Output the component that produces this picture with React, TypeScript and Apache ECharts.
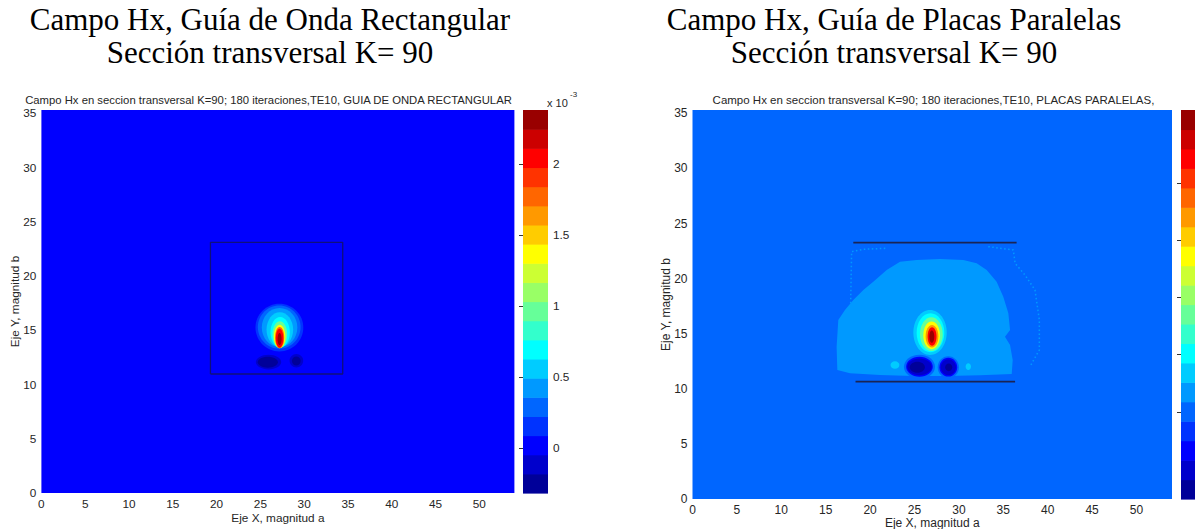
import React, { useEffect, useRef } from "react";
import * as echarts from "echarts";

// ---- colour map (MATLAB jet, 20 levels) ----
const JET = [
  "#000099", "#0000CC", "#0000FF", "#0033FF", "#0066FF", "#0099FF", "#00CCFF", "#00FFFF",
  "#33FFCC", "#66FF99", "#99FF66", "#CCFF33", "#FFFF00", "#FFCC00", "#FF9900", "#FF6600",
  "#FF3300", "#FF0000", "#CC0000", "#990000",
];

// ---- shared axes ----
const X_MIN = 0;
const X_MAX = 54;
const Y_MIN = 0;
const Y_MAX = 35.3;
const X_TICKS = [0, 5, 10, 15, 20, 25, 30, 35, 40, 45, 50];
const Y_TICKS = [0, 5, 10, 15, 20, 25, 30, 35];

// ---- left panel: rectangular waveguide (values x 1e-3) ----
const L_CBAR_RANGE: [number, number] = [-0.3145, 2.38];
const L_CBAR_TICKS = [0, 0.5, 1, 1.5, 2];
const L_BACKGROUND = 0;
const L_BOX: [number, number][] = [
  [19.3, 10.97], [34.4, 10.97], [34.4, 23.1], [19.3, 23.1], [19.3, 10.97],
];
// [cx, cy, rx, ry, value]
const L_BLOBS: number[][] = [
  [25.93, 12.07, 1.45, 0.68, -0.1],
  [25.85, 12.05, 1.15, 0.5, -0.25],
  [29.11, 12.19, 0.78, 0.62, -0.1],
  [29.1, 12.17, 0.5, 0.42, -0.25],
  [27.17, 15.25, 2.73, 2.2, 0.15],
  [27.15, 15.29, 2.44, 2.0, 0.3],
  [27.19, 15.25, 2.03, 1.8, 0.42],
  [27.22, 15.06, 1.52, 1.61, 0.55],
  [27.26, 14.82, 1.1, 1.41, 0.7],
  [27.22, 14.6, 0.84, 1.22, 0.95],
  [27.2, 14.43, 0.66, 1.08, 1.35],
  [27.2, 14.33, 0.52, 0.98, 1.75],
  [27.19, 14.27, 0.42, 0.86, 2.0],
  [27.19, 14.19, 0.23, 0.56, 2.3],
];

// ---- right panel: parallel plates ----
const R_CBAR_RANGE: [number, number] = [-1.52, 5.275];
const R_CBAR_TICKS = [0, 1, 2, 3, 4];
const R_BACKGROUND = 0;
const R_PLATE_TOP: [number, number][] = [[18.11, 23.26], [36.5, 23.26]];
const R_PLATE_BOTTOM: [number, number][] = [[18.36, 10.65], [36.33, 10.65]];
const R_REGION_VALUE = 0.3;
const R_REGION: [number, number][] = [
  [16.31, 11.71], [16.23, 13.82], [16.42, 16.24], [17.17, 17.15], [18.11, 18.06],
  [19.24, 18.97], [20.36, 19.72], [21.87, 20.78], [23.37, 21.54], [25.24, 21.69],
  [27.87, 21.78], [30.5, 21.69], [32.0, 21.39], [33.13, 20.78], [34.25, 19.72],
  [35.0, 18.36], [35.57, 16.85], [35.76, 15.34], [35.19, 14.73], [35.76, 13.97],
  [36.06, 12.61], [35.95, 11.34], [32.38, 11.22], [28.62, 11.16], [24.87, 11.16],
  [21.11, 11.25], [17.74, 11.4],
];
const R_DOTS_VALUE = 0.3;
const R_DOTS_LEFT: [number, number][] = [
  [17.81, 17.76], [17.92, 22.44], [19.24, 22.66], [21.87, 22.75],
];
const R_DOTS_RIGHT: [number, number][] = [
  [33.31, 22.9], [36.13, 22.6], [36.33, 21.39], [37.44, 20.33], [38.57, 18.97],
  [39.06, 16.24], [39.06, 13.52], [38.0, 12.01],
];
const R_BLOBS: number[][] = [
  [25.56, 12.0, 1.75, 1.1, 0.0],
  [28.81, 11.96, 1.2, 1.0, 0.0],
  [25.56, 12.0, 1.5, 0.9, -0.6],
  [28.81, 11.96, 1.0, 0.85, -0.6],
  [25.56, 12.0, 1.37, 0.76, -1.0],
  [28.81, 11.96, 0.86, 0.71, -1.0],
  [25.32, 11.95, 0.85, 0.5, -1.4],
  [28.85, 11.95, 0.4, 0.35, -1.4],
  [22.8, 12.16, 0.5, 0.35, 0.6],
  [31.06, 12.01, 0.3, 0.3, 0.6],
  [26.75, 15.11, 1.88, 2.04, 0.65],
  [26.8, 15.08, 1.56, 1.77, 1.0],
  [26.9, 14.96, 1.28, 1.53, 1.7],
  [26.93, 14.85, 0.94, 1.25, 2.7],
  [26.97, 14.77, 0.72, 1.02, 3.4],
  [26.98, 14.74, 0.5, 0.84, 4.4],
  [26.95, 14.73, 0.28, 0.55, 5.1],
];

// ---- texts ----
const HEAD_LEFT = ["Campo Hx, Guía de Onda Rectangular", "Sección transversal K= 90"];
const HEAD_RIGHT = ["Campo Hx, Guía de Placas Paralelas", "Sección transversal K= 90"];
const TITLE_LEFT = "Campo Hx en seccion transversal K=90; 180 iteraciones,TE10, GUIA DE ONDA RECTANGULAR";
const TITLE_RIGHT = "Campo Hx en seccion transversal K=90; 180 iteraciones,TE10, PLACAS PARALELAS,";
const X_NAME = "Eje X, magnitud a";
const Y_NAME = "Eje Y, magnitud b";

const SANS = '"Liberation Sans", Arial, Helvetica, sans-serif';
const SERIF = '"Liberation Serif", "Times New Roman", serif';
const INK = "#262626";

function bandColor(v: number, range: [number, number]) {
  const step = (range[1] - range[0]) / JET.length;
  let i = Math.floor((v - range[0]) / step);
  i = Math.max(0, Math.min(JET.length - 1, i));
  return JET[i];
}

function plotXAxis(gridIndex: number, fs: number, nameGap: number) {
  return {
    type: "value", gridIndex, min: X_MIN, max: X_MAX,
    name: X_NAME, nameLocation: "middle", nameGap, nameMoveOverlap: false,
    nameTextStyle: { fontFamily: SANS, fontSize: fs, color: INK },
    axisLine: { show: false }, axisTick: { show: false }, splitLine: { show: false },
    axisLabel: { customValues: X_TICKS, fontFamily: SANS, fontSize: fs, color: INK, margin: 5 },
  };
}
function plotYAxis(gridIndex: number, fs: number, nameGap: number) {
  return {
    type: "value", gridIndex, min: Y_MIN, max: Y_MAX,
    name: Y_NAME, nameLocation: "middle", nameGap, nameMoveOverlap: false,
    nameTextStyle: { fontFamily: SANS, fontSize: fs, color: INK },
    axisLine: { show: false }, axisTick: { show: false }, splitLine: { show: false },
    axisLabel: { customValues: Y_TICKS, fontFamily: SANS, fontSize: fs, color: INK, margin: 5 },
  };
}
function cbarYAxes(gridIndex: number, range: [number, number], ticks: number[], showLabels: boolean, fs: number) {
  const base = {
    type: "value", gridIndex, min: range[0], max: range[1],
    axisLine: { show: false }, splitLine: { show: false },
    axisTick: { show: true, inside: true, length: 4, customValues: ticks, lineStyle: { color: "#333", width: 1 } },
  };
  return [
    {
      ...base, position: "right",
      axisLabel: {
        show: showLabels, customValues: ticks, fontFamily: SANS, fontSize: fs, color: INK, margin: 5,
        formatter: (v: number) => String(v),
      },
    },
    { ...base, position: "left", axisLabel: { show: false } },
  ];
}
function cbarXAxis(gridIndex: number) {
  return { type: "value", gridIndex, min: 0, max: 1, show: false };
}

function blobSeries(data: number[][], range: [number, number], xi: number, yi: number) {
  return {
    type: "custom", xAxisIndex: xi, yAxisIndex: yi, data, encode: { x: 0, y: 1 },
    silent: true, clip: true, z: 3,
    renderItem: (_p: any, api: any) => {
      const c = api.coord([api.value(0), api.value(1)]);
      const s = api.size([api.value(2), api.value(3)]);
      return {
        type: "ellipse",
        shape: { cx: c[0], cy: c[1], rx: s[0], ry: s[1] },
        style: { fill: bandColor(api.value(4), range) },
      };
    },
  };
}
function polygonSeries(points: [number, number][], value: number, range: [number, number], xi: number, yi: number) {
  return {
    type: "custom", xAxisIndex: xi, yAxisIndex: yi, data: [points[0]], encode: { x: 0, y: 1 },
    silent: true, clip: true, z: 2,
    renderItem: (_p: any, api: any) => ({
      type: "polygon",
      shape: { points: points.map((p) => api.coord(p)) },
      style: { fill: bandColor(value, range) },
    }),
  };
}
function lineSeries(points: [number, number][], xi: number, yi: number, color: string, width: number, dash?: number[]) {
  return {
    type: "line", xAxisIndex: xi, yAxisIndex: yi, data: points, symbol: "none", silent: true, z: 4,
    lineStyle: { color, width, type: dash ? dash : "solid" },
  };
}
function cbarSeries(range: [number, number], xi: number, yi: number) {
  const step = (range[1] - range[0]) / JET.length;
  const centers = JET.map((_, i) => [0.5, range[0] + (i + 0.5) * step]);
  return {
    type: "custom", xAxisIndex: xi, yAxisIndex: yi, data: centers, encode: { x: 0, y: 1 }, silent: true,
    renderItem: (_p: any, api: any) => {
      const v = api.value(1);
      const a = api.coord([0, v + step / 2]);
      const b = api.coord([1, v - step / 2]);
      return {
        type: "rect",
        shape: { x: a[0], y: a[1], width: b[0] - a[0], height: b[1] - a[1] + 0.6 },
        style: { fill: bandColor(v, range) },
      };
    },
  };
}

function text(x: number, y: number, t: string, font: string, align = "center", color = "#000") {
  return {
    type: "text", x, y, silent: true,
    style: { text: t, font, fill: color, align, verticalAlign: "middle" },
  };
}

export default function App() {
  const ref = useRef<HTMLDivElement>(null);
  useEffect(() => {
    if (!ref.current) return;
    const chart = echarts.init(ref.current, undefined, { renderer: "svg" });
    const option: any = {
      animation: false,
      backgroundColor: "#ffffff",
      grid: [
        { left: 41.4, top: 110, width: 473, height: 383, show: true, borderWidth: 0, backgroundColor: bandColor(L_BACKGROUND, L_CBAR_RANGE), outerBoundsMode: "none" },
        { left: 523, top: 110, width: 25, height: 383, outerBoundsMode: "none" },
        { left: 692.5, top: 110, width: 479.5, height: 389, show: true, borderWidth: 0, backgroundColor: bandColor(R_BACKGROUND, R_CBAR_RANGE), outerBoundsMode: "none" },
        { left: 1181, top: 110, width: 25, height: 389, outerBoundsMode: "none" },
      ],
      xAxis: [
        plotXAxis(0, 11.8, 19),
        cbarXAxis(1),
        plotXAxis(2, 12, 18),
        cbarXAxis(3),
      ],
      yAxis: [
        plotYAxis(0, 11.8, 20),
        ...cbarYAxes(1, L_CBAR_RANGE, L_CBAR_TICKS, true, 11.8),
        plotYAxis(2, 12, 21),
        ...cbarYAxes(3, R_CBAR_RANGE, R_CBAR_TICKS, false, 12),
      ],
      series: [
        // left
        blobSeries(L_BLOBS, L_CBAR_RANGE, 0, 0),
        lineSeries(L_BOX, 0, 0, "#10107a", 1.3),
        cbarSeries(L_CBAR_RANGE, 1, 1),
        // right
        polygonSeries(R_REGION, R_REGION_VALUE, R_CBAR_RANGE, 2, 3),
        lineSeries(R_DOTS_LEFT, 2, 3, bandColor(R_DOTS_VALUE, R_CBAR_RANGE), 1.5, [1.5, 2.5]),
        lineSeries(R_DOTS_RIGHT, 2, 3, bandColor(R_DOTS_VALUE, R_CBAR_RANGE), 1.5, [1.5, 2.5]),
        blobSeries(R_BLOBS, R_CBAR_RANGE, 2, 3),
        lineSeries(R_PLATE_TOP, 2, 3, "#1a2456", 1.8),
        lineSeries(R_PLATE_BOTTOM, 2, 3, "#1a2456", 1.8),
        cbarSeries(R_CBAR_RANGE, 3, 4),
      ],
      graphic: [
        text(270, 19, HEAD_LEFT[0], `31px ${SERIF}`),
        text(270, 52, HEAD_LEFT[1], `31px ${SERIF}`),
        text(894, 19, HEAD_RIGHT[0], `31px ${SERIF}`),
        text(894, 52, HEAD_RIGHT[1], `31px ${SERIF}`),
        text(268.5, 100, TITLE_LEFT, `11.3px ${SANS}`, "center", INK),
        text(933.5, 100, TITLE_RIGHT, `11.5px ${SANS}`, "center", INK),
        text(547, 103, "x 10", `11px ${SANS}`, "left", INK),
        text(570, 94, "-3", `8px ${SANS}`, "left", INK),
      ],
    };
    chart.setOption(option);
    return () => chart.dispose();
  }, []);
  return (
    <div
      ref={ref}
      style={{ position: "absolute", left: 0, top: 0, width: 1195, height: 529, background: "#fff" }}
    />
  );
}
